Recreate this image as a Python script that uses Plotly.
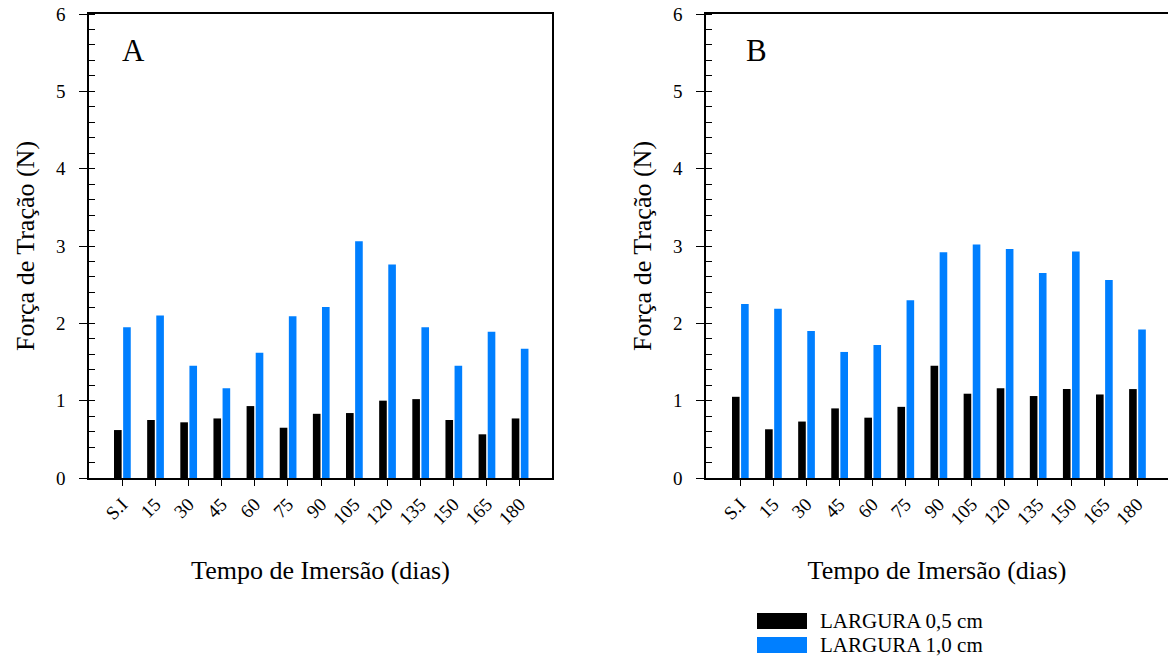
import plotly.graph_objects as go

categories = ["S.I", "15", "30", "45", "60", "75", "90", "105", "120", "135", "150", "165", "180"]

a_largura_05 = [0.62, 0.75, 0.72, 0.77, 0.93, 0.65, 0.83, 0.84, 1.00, 1.02, 0.75, 0.565, 0.77]
a_largura_10 = [1.95, 2.10, 1.45, 1.16, 1.62, 2.09, 2.21, 3.06, 2.76, 1.95, 1.45, 1.89, 1.67]

b_largura_05 = [1.05, 0.63, 0.73, 0.90, 0.78, 0.92, 1.45, 1.09, 1.16, 1.06, 1.15, 1.08, 1.15]
b_largura_10 = [2.25, 2.19, 1.90, 1.63, 1.72, 2.30, 2.92, 3.02, 2.96, 2.65, 2.93, 2.56, 1.92]

series_names = ["LARGURA 0,5 cm", "LARGURA 1,0 cm"]
colors = ["#000000", "#007FFF"]
y_ticks = [0, 1, 2, 3, 4, 5, 6]

W, H = 1168, 657
FONT = "Liberation Serif"

def px_x(p):
    return p / W

def px_y(p):
    return 1 - p / H

fig = go.Figure()

for xa, ya, s05, s10 in [("x", "y", a_largura_05, a_largura_10), ("x2", "y2", b_largura_05, b_largura_10)]:
    fig.add_trace(go.Bar(x=categories, y=s05, name=series_names[0], marker=dict(color=colors[0], line=dict(width=0)),
                         width=0.23, offset=-0.245, xaxis=xa, yaxis=ya, showlegend=False))
    fig.add_trace(go.Bar(x=categories, y=s10, name=series_names[1], marker=dict(color=colors[1], line=dict(width=0)),
                         width=0.23, offset=0.03, xaxis=xa, yaxis=ya, showlegend=False))

ydom = [px_y(478), px_y(14)]

def xaxis_cfg(domain, rng, anchor):
    return dict(
        domain=domain, range=rng, type="category", anchor=anchor, automargin=False,
        showline=True, linecolor="black", linewidth=1.5, mirror=True,
        ticks="outside", ticklen=6, tickcolor="black", tickwidth=1,
        tickangle=-45, tickfont=dict(family=FONT, size=19, color="black"),
        showgrid=False, zeroline=False,
        title=dict(text="Tempo de Imersão (dias)", font=dict(family=FONT, size=26, color="black"), standoff=33),
    )

def yaxis_cfg(anchor, mirror):
    return dict(
        domain=ydom, range=[0, 6], tickvals=y_ticks, anchor=anchor, automargin=False,
        showline=True, linecolor="black", linewidth=1.5, mirror=mirror,
        ticks="outside", ticklen=8, tickcolor="black", tickwidth=1,
        ticklabelstandoff=10,
        minor=dict(ticks="inside", ticklen=6, dtick=0.2, tickcolor="black", tickwidth=1, showgrid=False),
        tickfont=dict(family=FONT, size=19, color="black"),
        showgrid=False, zeroline=False,
        title=dict(text="Força de Tração (N)", font=dict(family=FONT, size=26, color="black"), standoff=14),
    )

fig.update_layout(
    template="none",
    width=W, height=H,
    margin=dict(l=0, r=0, t=0, b=0, pad=0),
    paper_bgcolor="white", plot_bgcolor="white",
    font=dict(family=FONT, color="black"),
    barmode="overlay",
    showlegend=False,
    xaxis=xaxis_cfg([px_x(89), px_x(552)], [-1.0, 12.97], "y"),
    yaxis=yaxis_cfg("x", True),
    xaxis2=xaxis_cfg([px_x(706), 1.0], [-1.03, 12.93], "y2"),
    yaxis2=yaxis_cfg("x2", False),
)

annotations = [
    dict(text="A", x=px_x(133), y=px_y(50), xref="paper", yref="paper", showarrow=False,
         font=dict(family=FONT, size=31, color="black"), xanchor="center", yanchor="middle"),
    dict(text="B", x=px_x(756), y=px_y(50), xref="paper", yref="paper", showarrow=False,
         font=dict(family=FONT, size=31, color="black"), xanchor="center", yanchor="middle"),
]
shapes = []
for i, (name, col) in enumerate(zip(series_names, colors)):
    yc = 621 + i * 24
    shapes.append(dict(type="rect", xref="paper", yref="paper", x0=px_x(757), x1=px_x(807),
                       y0=px_y(yc - 8), y1=px_y(yc + 8), fillcolor=col, line=dict(width=0)))
    annotations.append(dict(text=name, x=px_x(818), y=px_y(yc), xref="paper", yref="paper", showarrow=False,
                            xanchor="left", yanchor="middle", font=dict(family=FONT, size=21, color="black")))

fig.update_layout(annotations=annotations, shapes=shapes)

fig.write_html("out.html")
